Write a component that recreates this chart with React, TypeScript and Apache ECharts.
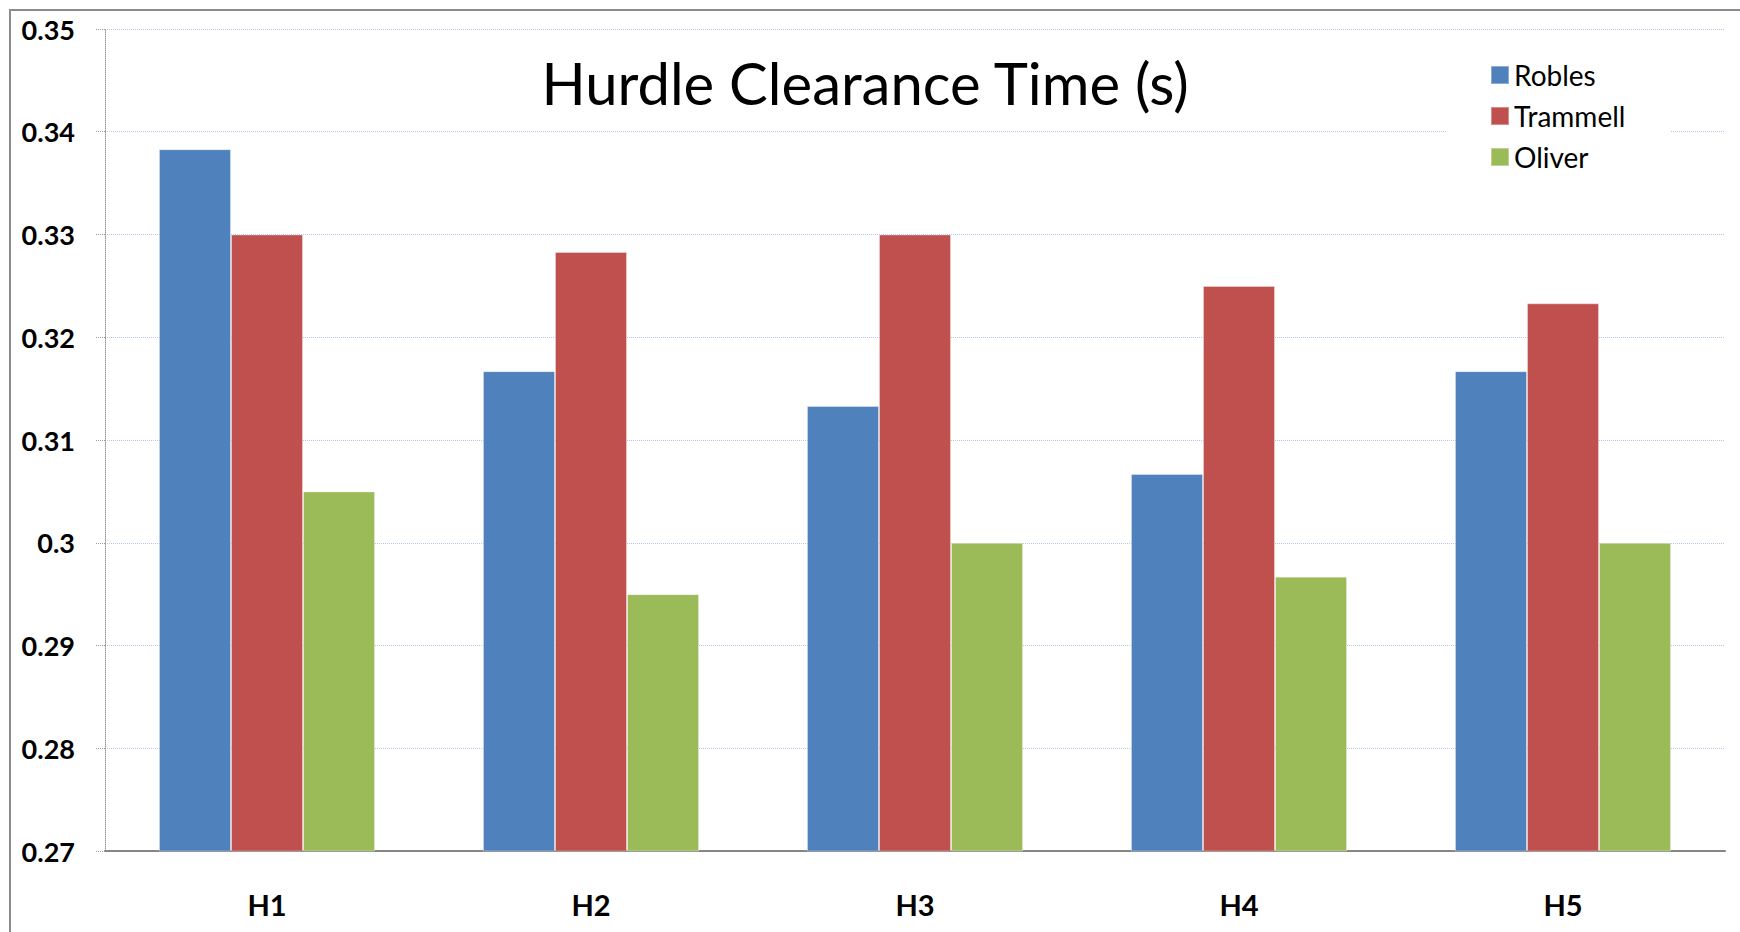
import React, { useEffect, useRef } from "react";
import * as echarts from "echarts";

const categories = ["H1", "H2", "H3", "H4", "H5"];
const robles = [0.3383, 0.3167, 0.3133, 0.3067, 0.3167];
const trammell = [0.33, 0.3283, 0.33, 0.325, 0.3233];
const oliver = [0.305, 0.295, 0.3, 0.2967, 0.3];
const seriesNames = ["Robles", "Trammell", "Oliver"];
const colors = ["#4F81BD", "#C0504D", "#9BBB59"];

const FONT = "Lato, 'Open Sans', sans-serif";

export default function App() {
  const ref = useRef<HTMLDivElement>(null);
  useEffect(() => {
    document.body.style.margin = "0";
    document.body.style.overflow = "hidden";
    const chart = echarts.init(ref.current!, undefined, { renderer: "svg" });
    const data = [robles, trammell, oliver];
    chart.setOption({
      animation: false,
      backgroundColor: "#ffffff",
      title: {
        text: "Hurdle Clearance Time (s)",
        left: 860,
        textAlign: "center",
        top: 48,
        textStyle: { fontFamily: FONT, fontSize: 58, fontWeight: "normal", color: "#000" },
      },
      legend: {
        orient: "vertical",
        left: 1447,
        top: 41,
        padding: [20, 45, 20, 43],
        backgroundColor: "#ffffff",
        itemWidth: 18,
        itemHeight: 18,
        itemGap: 13,
        icon: "rect",
        data: seriesNames,
        textStyle: { fontFamily: FONT, fontSize: 28, color: "#000", lineHeight: 28, padding: [0, 0, 0, 0] },
      },
      graphic: [
        {
          type: "rect",
          silent: true,
          z: 100,
          shape: { x: 10, y: 10, width: 1800, height: 1000 },
          style: { fill: "none", stroke: "#8c8c8c", lineWidth: 2 },
        },
      ],
      grid: { left: 105, right: 15, top: 29, bottom: 81, containLabel: false },
      xAxis: {
        type: "category",
        data: categories,
        axisLine: { lineStyle: { color: "#868686", width: 2 } },
        axisTick: { length: 11, lineStyle: { color: "#868686", width: 2 } },
        axisLabel: { margin: 39, fontFamily: FONT, fontSize: 29, fontWeight: "bold", color: "#000" },
      },
      yAxis: {
        type: "value",
        min: 0.27,
        max: 0.35,
        interval: 0.01,
        axisLine: { show: true, lineStyle: { color: "#9a9a9a", width: 1, type: "dotted" } },
        axisTick: { show: true, length: 10, lineStyle: { color: "#9a9a9a", width: 1, type: "dotted" } },
        axisLabel: {
          margin: 30,
          fontFamily: FONT,
          fontSize: 27,
          fontWeight: "bold",
          color: "#000",
          formatter: (v: number) => String(+v.toFixed(2)),
        },
        splitLine: { lineStyle: { color: "#b4c8e6", width: 1, type: "dotted" } },
      },
      series: seriesNames.map((name, i) => ({
        name,
        type: "bar",
        data: data[i],
        barGap: "0%",
        barCategoryGap: "33.3%",
        itemStyle: { color: colors[i], borderColor: "rgba(255,255,255,0.35)", borderWidth: 1 },
      })),
    });
    return () => chart.dispose();
  }, []);
  return <div ref={ref} style={{ width: 1740, height: 932 }} />;
}
